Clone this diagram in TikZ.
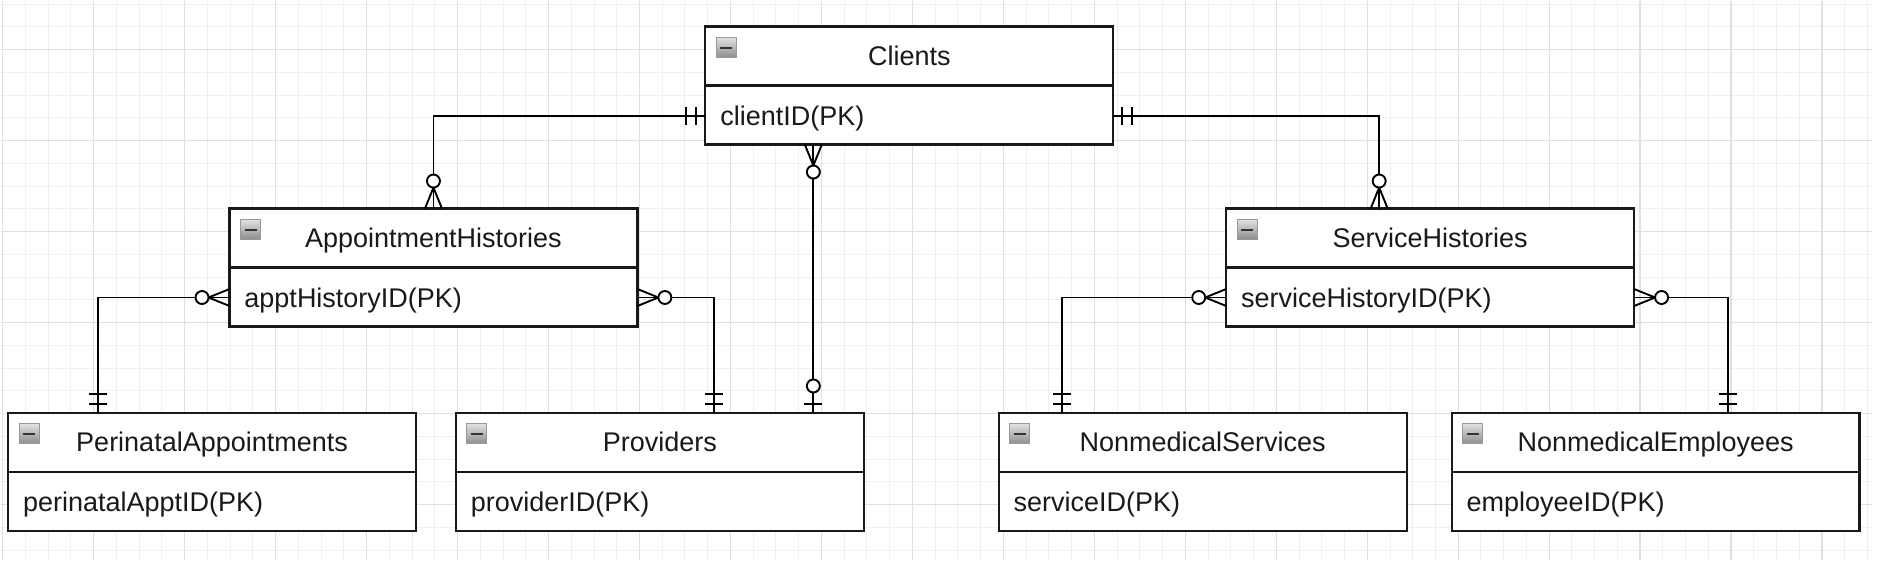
\documentclass[tikz,border=0pt]{standalone}
\usepackage{fontspec}
\setmainfont{Liberation Sans}
\usepackage{tikz}
\usetikzlibrary{arrows.meta,positioning}

% crow's foot ends
\pgfdeclarearrow{
  name = onlyone,
  setup code = {
    \pgfarrowssettipend{0pt}
    \pgfarrowssetlineend{0pt}
    \pgfarrowssetbackend{-10pt}
    \pgfarrowssetvisualbackend{-10pt}
    \pgfarrowsupperhullpoint{0pt}{5pt}
    \pgfarrowsupperhullpoint{-10pt}{5pt}
  },
  drawing code = {
    \pgfpathmoveto{\pgfpoint{-4.5pt}{4.5pt}}
    \pgfpathlineto{\pgfpoint{-4.5pt}{-4.5pt}}
    \pgfpathmoveto{\pgfpoint{-9.5pt}{4.5pt}}
    \pgfpathlineto{\pgfpoint{-9.5pt}{-4.5pt}}
    \pgfusepathqstroke
  }
}
\pgfdeclarearrow{
  name = zeroone,
  setup code = {
    \pgfarrowssettipend{0pt}
    \pgfarrowssetlineend{0pt}
    \pgfarrowssetbackend{-17pt}
    \pgfarrowssetvisualbackend{-17pt}
    \pgfarrowsupperhullpoint{0pt}{5pt}
    \pgfarrowsupperhullpoint{-17pt}{5pt}
  },
  drawing code = {
    \pgfpathmoveto{\pgfpoint{-4.5pt}{4.5pt}}
    \pgfpathlineto{\pgfpoint{-4.5pt}{-4.5pt}}
    \pgfusepathqstroke
    \pgfsetfillcolor{white}
    \pgfpathcircle{\pgfpoint{-13.5pt}{0pt}}{3.25pt}
    \pgfusepathqfillstroke
  }
}
\pgfdeclarearrow{
  name = zeromany,
  setup code = {
    \pgfarrowssettipend{0pt}
    \pgfarrowssetlineend{0pt}
    \pgfarrowssetbackend{-17.5pt}
    \pgfarrowssetvisualbackend{-17.5pt}
    \pgfarrowsupperhullpoint{0pt}{5pt}
    \pgfarrowsupperhullpoint{-17.5pt}{5pt}
  },
  drawing code = {
    \pgfpathmoveto{\pgfpoint{-10.5pt}{0pt}}
    \pgfpathlineto{\pgfpoint{0pt}{4.25pt}}
    \pgfpathmoveto{\pgfpoint{-10.5pt}{0pt}}
    \pgfpathlineto{\pgfpoint{0pt}{-4.25pt}}
    \pgfusepathqstroke
    \pgfsetfillcolor{white}
    \pgfpathcircle{\pgfpoint{-13.75pt}{0pt}}{3.25pt}
    \pgfusepathqfillstroke
  }
}

\begin{document}
\begin{tikzpicture}[
    x = 0.5pt, y = -0.5pt, % one unit is one pixel of the sketch
    line width = 0.95pt, % connector lines
    node distance = 20pt, % gap between boxes
    font = \fontsize{13.5}{16}\selectfont
    ]

    \tikzset{
    entity/.style = {
    draw = black!90,
    line width = 1.1pt,
    fill = white,
    minimum width = 204pt,
    minimum height = 59pt,
    inner sep = 0pt,
    outer sep = 0pt,
    path picture = {
      \draw[line width = 1.1pt, black!90] (path picture bounding box.west) -- (path picture bounding box.east);
      \draw[line width = 0.5pt, draw = black!40, top color = black!12, bottom color = black!45]
        ([shift={(5.5pt,-5.5pt)}]path picture bounding box.north west) rectangle +(10pt,-10pt);
      \draw[line width = 1pt, black!80]
        ([shift={(7.5pt,-10.5pt)}]path picture bounding box.north west) -- +(6pt,0pt);
    }},
    enttitle/.style = {anchor = base, inner sep = 0pt, text = black!90},
    entkey/.style = {anchor = base west, inner sep = 0pt, text = black!90},
    minorline/.style = {line width = 0.4pt, black!6},
    majorline/.style = {line width = 0.6pt, black!12}
    }

    % background grid
    \fill[white] (0,0) rectangle (1878,560);
    \foreach \i in {0,...,82} \draw[minorline] ({2+22.75*\i},0) -- ({2+22.75*\i},560);
    \foreach \j in {0,...,24} \draw[minorline] (0,{3.5+22.75*\j}) -- (1872,{3.5+22.75*\j});
    \foreach \i in {0,...,20} \draw[majorline] ({2+91*\i},0) -- ({2+91*\i},560);
    \foreach \j in {0,...,5} \draw[majorline] (0,{49+91*\j}) -- (1872,{49+91*\j});
    \useasboundingbox (0,0) rectangle (1878,560);

    \node[entity] (clients) at (909,85) {};
    \node[entity] (appthist) at (433,267) {};
    \node[entity] (servhist) at (1430,267) {};
    \node[entity] (perinatal) at (211.5,471.5) {};
    \node[entity] (providers) [right=of perinatal] {};
    \node[entity] (nmservices) [right=67.5pt of providers] {};
    \node[entity] (nmemployees) [right=22.5pt of nmservices] {};

    \node[enttitle] (clients-t) at ([yshift=-19.5pt]clients.north) {Clients};
    \node[entkey] (clients-k) at ([xshift=7pt,yshift=9.5pt]clients.south west) {clientID(PK)};
    \node[enttitle] (appthist-t) at ([yshift=-19.5pt]appthist.north) {AppointmentHistories};
    \node[entkey] (appthist-k) at ([xshift=7pt,yshift=9.5pt]appthist.south west) {apptHistoryID(PK)};
    \node[enttitle] (servhist-t) at ([yshift=-19.5pt]servhist.north) {ServiceHistories};
    \node[entkey] (servhist-k) at ([xshift=7pt,yshift=9.5pt]servhist.south west) {serviceHistoryID(PK)};
    \node[enttitle] (perinatal-t) at ([yshift=-19.5pt]perinatal.north) {PerinatalAppointments};
    \node[entkey] (perinatal-k) at ([xshift=7pt,yshift=9.5pt]perinatal.south west) {perinatalApptID(PK)};
    \node[enttitle] (providers-t) at ([yshift=-19.5pt]providers.north) {Providers};
    \node[entkey] (providers-k) at ([xshift=7pt,yshift=9.5pt]providers.south west) {providerID(PK)};
    \node[enttitle] (nmservices-t) at ([yshift=-19.5pt]nmservices.north) {NonmedicalServices};
    \node[entkey] (nmservices-k) at ([xshift=7pt,yshift=9.5pt]nmservices.south west) {serviceID(PK)};
    \node[enttitle] (nmemployees-t) at ([yshift=-19.5pt]nmemployees.north) {NonmedicalEmployees};
    \node[entkey] (nmemployees-k) at ([xshift=7pt,yshift=9.5pt]nmemployees.south west) {employeeID(PK)};

    \draw[{onlyone}-{zeromany}] ([yshift=-15pt]clients.west) -| (appthist);
    \draw[{onlyone}-{zeromany}] ([yshift=-15pt]clients.east) -| ([xshift=-25.5pt]servhist.north);
    \draw[{zeromany}-{zeroone}] ([xshift=-48pt]clients.south) -- ([xshift=-48pt]clients.south |- providers.north);
    \draw[{zeromany}-{onlyone}] ([yshift=-15pt]appthist.west) -| ([xshift=-57pt]perinatal.north);
    \draw[{zeromany}-{onlyone}] ([yshift=-15pt]appthist.east) -| ([xshift=27pt]providers.north);
    \draw[{zeromany}-{onlyone}] ([yshift=-15pt]servhist.west) -| ([xshift=-70.5pt]nmservices.north);
    \draw[{zeromany}-{onlyone}] ([yshift=-15pt]servhist.east) -| ([xshift=36pt]nmemployees.north);
\end{tikzpicture}
\end{document}
